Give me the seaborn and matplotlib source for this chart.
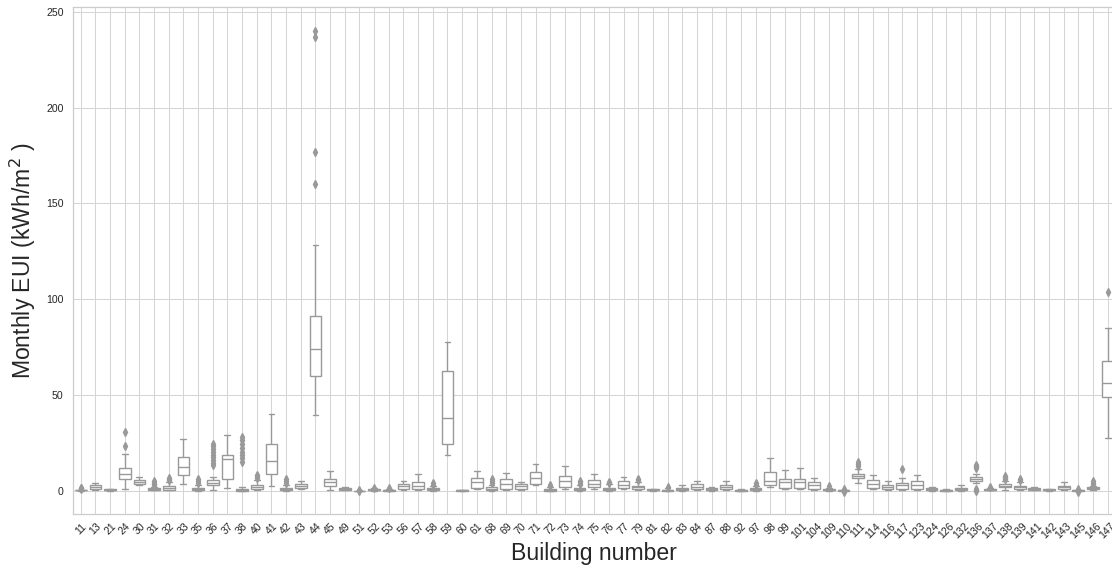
import numpy as np
import pandas as pd
import matplotlib
matplotlib.use("Agg")
import matplotlib.pyplot as plt
import seaborn as sns

# Monthly energy use intensity (kWh/m2) per building
b11 = [0.15, 0.2, 0.25, 0.3, 0.35, 0.4, 0.45, 0.5, 0.55, 0.6, 1.1, 1.3, 1.5]
b13 = [0.5, 0.7, 0.8, 0.9, 1.3, 1.6, 1.9, 2.2, 2.6, 3.0, 3.4, 3.7, 4.0]
b21 = [0.05, 0.2, 0.35, 0.5, 0.6, 0.75, 0.9, 1.0, 1.2]
b24 = [0.9, 3.5, 5.2, 6.1, 7.2, 8.1, 8.9, 9.8, 11.0, 12.0, 19.5, 23.5, 30.8]
b30 = [3.0, 3.2, 3.4, 3.5, 3.9, 4.3, 4.7, 5.0, 5.4, 5.7, 6.2, 6.6, 7.1]
b31 = [0.3, 0.35, 0.4, 0.45, 0.5, 0.6, 0.65, 0.7, 0.8, 0.85, 0.9, 1.0, 1.1, 1.2, 1.3, 1.4,
       2.3, 2.9, 3.5, 4.2, 5.0]
b32 = [0.3, 0.35, 0.4, 0.45, 0.5, 0.6, 0.8, 0.9, 1.1, 1.2, 1.4, 1.6, 1.8, 2.0, 2.3, 2.6,
       3.6, 4.6, 5.8, 6.4, 7.0]
b33 = [3.5, 5.5, 7.0, 8.2, 9.5, 11.0, 12.5, 13.8, 15.5, 17.6, 20.0, 23.5, 27.1]
b35 = [0.2, 0.25, 0.3, 0.33, 0.35, 0.5, 0.7, 0.8, 0.9, 1.1, 1.3, 1.5, 1.7, 3.2, 4.0, 5.0, 6.0]
b36 = [0.5, 1.0, 1.5, 1.9, 2.2, 2.4, 2.6, 2.7, 2.8, 2.9, 3.0, 3.1, 3.2, 3.4, 3.5, 3.6, 3.7,
       3.8, 3.9, 4.0, 4.2, 4.3, 4.4, 4.6, 4.7, 4.9, 5.0, 5.2, 5.3, 5.5, 5.6, 7.5, 13.5, 14.8,
       16.0, 17.5, 19.0, 20.5, 22.0, 23.5, 24.7]
b37 = [1.4, 3.0, 4.5, 6.1, 10.0, 14.5, 16.9, 17.5, 18.2, 19.0, 22.0, 25.5, 29.0]
b38 = [0.02, 0.04, 0.06, 0.08, 0.1, 0.11, 0.12, 0.14, 0.16, 0.18, 0.19, 0.2, 0.24, 0.27,
       0.3, 0.33, 0.36, 0.39, 0.42, 0.44, 0.46, 0.48, 0.5, 0.53, 0.56, 0.6, 0.63, 0.67, 0.7,
       0.74, 0.78, 0.82, 0.86, 0.9, 1.2, 1.5, 1.9, 15.3, 17.0, 19.0, 20.5, 22.5, 24.5, 26.5,
       28.3]
b40 = [0.3, 0.4, 0.5, 0.6, 0.8, 0.9, 1.2, 1.4, 1.6, 1.8, 1.9, 2.2, 2.5, 2.7, 2.9, 3.1,
       4.5, 5.8, 6.9, 7.6, 8.2]
b41 = [2.8, 4.5, 6.5, 8.7, 11.0, 13.5, 15.8, 18.0, 21.0, 24.7, 30.0, 35.0, 40.0]
b42 = [0.1, 0.15, 0.2, 0.25, 0.3, 0.5, 0.7, 0.9, 1.0, 1.1, 1.3, 1.45, 1.6, 3.0, 4.2, 5.3, 6.3]
b43 = [0.9, 1.2, 1.5, 1.7, 2.1, 2.5, 2.8, 3.1, 3.5, 3.8, 4.3, 4.8, 5.2]
b44 = [39.5, 44.0, 48.0, 52.0, 55.0, 58.0, 60.2, 63.0, 66.0, 68.0, 70.0, 72.0, 74.1, 77.0,
       80.0, 83.0, 86.0, 89.0, 91.4, 104.0, 128.5, 160.1, 176.6, 237.0, 240.2]
b45 = [0.5, 1.2, 1.8, 2.4, 3.2, 3.9, 4.5, 5.0, 5.7, 6.4, 7.8, 9.2, 10.4]
b49 = [0.4, 0.5, 0.55, 0.8, 1.0, 1.3, 1.6, 1.75, 1.9]
b51 = [-0.25, -0.05, -0.02, 0.0, 0.03, 0.05, 0.08, 0.1, 0.12, 0.15, 0.25, 0.35, 0.6]
b52 = [0.2, 0.3, 0.35, 0.45, 0.55, 0.7, 0.85, 1.3, 1.7]
b53 = [0.0, 0.1, 0.15, 0.25, 0.35, 0.5, 0.65, 1.0, 1.5]
b56 = [0.5, 0.8, 1.0, 1.2, 1.7, 2.2, 2.6, 3.0, 3.4, 3.8, 4.3, 4.8, 5.2]
b57 = [0.6, 0.8, 0.9, 1.0, 1.6, 2.2, 2.8, 3.4, 4.0, 4.5, 5.8, 7.2, 8.7]
b58 = [0.1, 0.15, 0.2, 0.3, 0.5, 0.7, 0.8, 1.0, 1.2, 1.4, 2.6, 3.3, 4.0]
b59 = [18.6, 20.5, 22.5, 24.7, 29.0, 33.5, 38.0, 44.0, 51.0, 62.8, 68.0, 73.0, 77.5]
b60 = [0.05, 0.1, 0.2, 0.3, 0.35, 0.45, 0.55, 0.6, 0.7]
b61 = [0.9, 1.2, 1.4, 1.6, 2.6, 3.7, 4.7, 5.4, 6.2, 7.0, 8.2, 9.3, 10.4]
b68 = [0.1, 0.2, 0.25, 0.3, 0.35, 0.6, 0.9, 1.1, 1.2, 1.4, 1.6, 1.75, 1.9, 3.2, 4.3, 5.2, 6.1]
b69 = [0.5, 0.8, 1.0, 1.2, 2.0, 2.9, 3.8, 4.6, 5.5, 6.3, 7.4, 8.5, 9.6]
b70 = [0.35, 0.7, 1.0, 1.2, 1.6, 2.0, 2.4, 2.8, 3.2, 3.5, 4.0, 4.5, 4.9]
b71 = [3.0, 3.3, 3.6, 3.8, 4.8, 5.8, 6.8, 7.8, 9.0, 10.1, 11.5, 13.0, 14.3]
b72 = [0.05, 0.1, 0.15, 0.2, 0.3, 0.4, 0.5, 0.6, 0.8, 1.0, 1.9, 2.5, 3.1]
b73 = [1.2, 1.5, 1.8, 2.1, 3.1, 4.2, 5.2, 6.0, 6.9, 7.7, 9.5, 11.2, 12.9]
b74 = [0.1, 0.2, 0.25, 0.3, 0.35, 0.6, 0.9, 1.1, 1.2, 1.3, 1.4, 1.5, 1.6, 2.9, 3.7, 4.5, 5.2]
b75 = [0.9, 1.3, 1.6, 1.9, 2.5, 3.1, 3.7, 4.3, 5.0, 5.7, 6.8, 7.9, 9.0]
b76 = [0.1, 0.2, 0.25, 0.3, 0.35, 0.6, 0.9, 1.1, 1.2, 1.3, 1.45, 1.6, 1.7, 3.0, 3.6, 4.3, 4.9]
b77 = [0.9, 1.2, 1.4, 1.6, 2.2, 2.7, 3.3, 3.9, 4.4, 5.0, 5.9, 6.7, 7.5]
b79 = [0.3, 0.5, 0.7, 0.8, 0.9, 1.2, 1.4, 1.6, 1.8, 2.0, 2.2, 2.4, 2.6, 4.0, 4.9, 5.6, 6.4]
b81 = [0.2, 0.3, 0.35, 0.5, 0.6, 0.75, 0.9, 1.0, 1.1]
b82 = [0.05, 0.15, 0.2, 0.3, 0.4, 0.55, 0.7, 1.4, 2.0]
b83 = [0.2, 0.35, 0.45, 0.5, 0.7, 0.9, 1.1, 1.3, 1.5, 1.7, 2.1, 2.6, 3.0]
b84 = [0.5, 0.7, 0.85, 1.0, 1.4, 1.9, 2.3, 2.6, 3.0, 3.5, 4.1, 4.7, 5.2]
b87 = [0.2, 0.3, 0.35, 0.6, 0.85, 1.1, 1.4, 1.6, 1.8]
b88 = [0.5, 0.7, 0.8, 0.9, 1.3, 1.6, 1.9, 2.2, 2.6, 3.1, 3.8, 4.5, 5.2]
b92 = [0.05, 0.15, 0.2, 0.3, 0.4, 0.55, 0.7, 0.8, 0.9]
b97 = [0.2, 0.3, 0.4, 0.5, 0.7, 0.85, 1.0, 1.1, 1.25, 1.4, 2.6, 3.3, 4.0]
b98 = [1.9, 2.3, 2.7, 3.0, 3.8, 4.6, 5.4, 6.5, 8.2, 10.1, 12.5, 15.0, 17.2]
b99 = [0.9, 1.2, 1.5, 1.7, 2.6, 3.6, 4.5, 5.1, 5.7, 6.3, 7.9, 9.5, 11.1]
b101 = [0.9, 1.2, 1.5, 1.7, 2.7, 3.7, 4.7, 5.3, 5.8, 6.3, 8.0, 9.9, 11.8]
b104 = [0.5, 0.8, 1.0, 1.2, 1.8, 2.4, 3.0, 3.5, 4.0, 4.5, 5.2, 5.9, 6.6]
b109 = [0.1, 0.2, 0.3, 0.45, 0.6, 0.75, 0.9, 1.6, 2.6]
b110 = [-0.4, 0.0, 0.05, 0.1, 0.15, 0.2, 0.25, 0.3, 0.35, 0.4, 0.5, 0.7, 1.1]
b111 = [4.0, 5.0, 5.6, 6.1, 6.5, 6.9, 7.2, 7.4, 7.6, 7.9, 8.2, 8.5, 8.8, 11.5, 13.0, 14.0, 15.0]
b114 = [0.9, 1.1, 1.3, 1.4, 2.2, 3.0, 3.7, 4.3, 5.0, 5.6, 6.6, 7.6, 8.5]
b116 = [0.5, 0.7, 0.8, 0.9, 1.3, 1.6, 1.9, 2.3, 2.7, 3.1, 3.9, 4.7, 5.4]
b117 = [0.5, 0.8, 1.0, 1.2, 1.8, 2.4, 3.0, 3.5, 3.9, 4.3, 5.3, 6.6, 11.3]
b123 = [0.5, 0.8, 1.0, 1.2, 1.9, 2.6, 3.3, 3.9, 4.5, 5.0, 6.1, 7.2, 8.3]
b124 = [0.2, 0.35, 0.5, 0.8, 1.0, 1.4, 1.7, 1.9, 2.2]
b126 = [0.05, 0.1, 0.2, 0.3, 0.4, 0.5, 0.6, 0.7, 0.8]
b132 = [0.1, 0.2, 0.3, 0.35, 0.6, 0.9, 1.1, 1.3, 1.5, 1.7, 2.1, 2.6, 3.0]
b136 = [0.1, 0.5, 0.9, 4.0, 4.5, 4.8, 5.0, 5.3, 5.6, 5.8, 6.0, 6.2, 6.3, 6.5, 6.7, 6.9, 7.1,
        7.3, 7.5, 8.2, 9.0, 11.8, 12.4, 13.0, 13.7]
b137 = [0.3, 0.4, 0.5, 0.6, 0.7, 0.8, 0.9, 1.4, 1.9]
b138 = [0.6, 1.0, 1.3, 1.5, 1.7, 1.9, 2.1, 2.3, 2.5, 2.6, 2.7, 2.8, 3.0, 3.2, 3.4, 3.5,
        5.0, 6.3, 6.9, 7.5, 7.8]
b139 = [0.3, 0.5, 0.7, 0.8, 0.9, 1.2, 1.4, 1.6, 1.8, 2.0, 2.2, 2.4, 2.6, 4.2, 4.9, 5.6, 6.3]
b141 = [0.3, 0.4, 0.5, 0.8, 1.0, 1.3, 1.6, 1.9, 2.2]
b142 = [0.2, 0.3, 0.35, 0.5, 0.65, 0.8, 1.0, 1.1, 1.2]
b143 = [0.4, 0.6, 0.8, 0.9, 1.3, 1.7, 2.0, 2.3, 2.6, 2.8, 3.5, 4.2, 4.9]
b145 = [-0.4, 0.05, 0.1, 0.15, 0.2, 0.25, 0.3, 0.35, 0.4, 0.45, 0.55, 0.7, 1.2]
b146 = [0.5, 0.7, 0.8, 0.9, 1.0, 1.2, 1.35, 1.45, 1.5, 1.6, 1.7, 1.8, 1.9, 2.7, 3.5, 4.3, 5.0]
b147 = [27.5, 36.0, 43.0, 48.9, 51.5, 54.0, 56.2, 59.0, 63.5, 67.9, 74.0, 85.2, 103.7]

buildings = ["11", "13", "21", "24", "30", "31", "32", "33", "35", "36", "37", "38", "40",
             "41", "42", "43", "44", "45", "49", "51", "52", "53", "56", "57", "58", "59",
             "60", "61", "68", "69", "70", "71", "72", "73", "74", "75", "76", "77", "79",
             "81", "82", "83", "84", "87", "88", "92", "97", "98", "99", "101", "104", "109",
             "110", "111", "114", "116", "117", "123", "124", "126", "132", "136", "137",
             "138", "139", "141", "142", "143", "145", "146", "147"]
series = [b11, b13, b21, b24, b30, b31, b32, b33, b35, b36, b37, b38, b40, b41, b42, b43,
          b44, b45, b49, b51, b52, b53, b56, b57, b58, b59, b60, b61, b68, b69, b70, b71,
          b72, b73, b74, b75, b76, b77, b79, b81, b82, b83, b84, b87, b88, b92, b97, b98,
          b99, b101, b104, b109, b110, b111, b114, b116, b117, b123, b124, b126, b132, b136,
          b137, b138, b139, b141, b142, b143, b145, b146, b147]
y_ticks = [0, 50, 100, 150, 200, 250]

df = pd.DataFrame({
    "Building": np.repeat(buildings, [len(s) for s in series]),
    "EUI": np.concatenate([np.asarray(s, dtype=float) for s in series]),
})

sns.set_theme(style="whitegrid")
plt.rcParams["font.family"] = ["Liberation Sans", "DejaVu Sans"]
plt.rcParams["grid.linewidth"] = 0.75
plt.rcParams["axes.linewidth"] = 0.9

fig = plt.figure(figsize=(11.12, 5.73), dpi=100)
ax = fig.add_axes([0.066, 0.1024, 0.9367, 0.8848])

gray = "#999999"
sns.boxplot(
    data=df, x="Building", y="EUI", order=buildings, ax=ax,
    color="white", linecolor=gray, linewidth=1.0, width=0.8,
    flierprops=dict(marker="d", markerfacecolor=gray, markeredgecolor=gray, markersize=3.8),
)

ax.set_ylim(-12.2, 252.3)
ax.set_yticks(y_ticks)
ax.tick_params(axis="both", length=0, labelsize=7.6, colors="#262626")
ax.tick_params(axis="x", labelrotation=45, pad=5)
ax.tick_params(axis="y", pad=7)
ax.grid(True, axis="both", color="#d5d5d5")
ax.set_xlabel("Building number", fontsize=16.6, color="#262626", labelpad=1)
ax.set_ylabel("Monthly EUI (kWh/m$^2$ )", fontsize=16.6, color="#262626", labelpad=6)

fig.savefig("out.png", dpi=100)
